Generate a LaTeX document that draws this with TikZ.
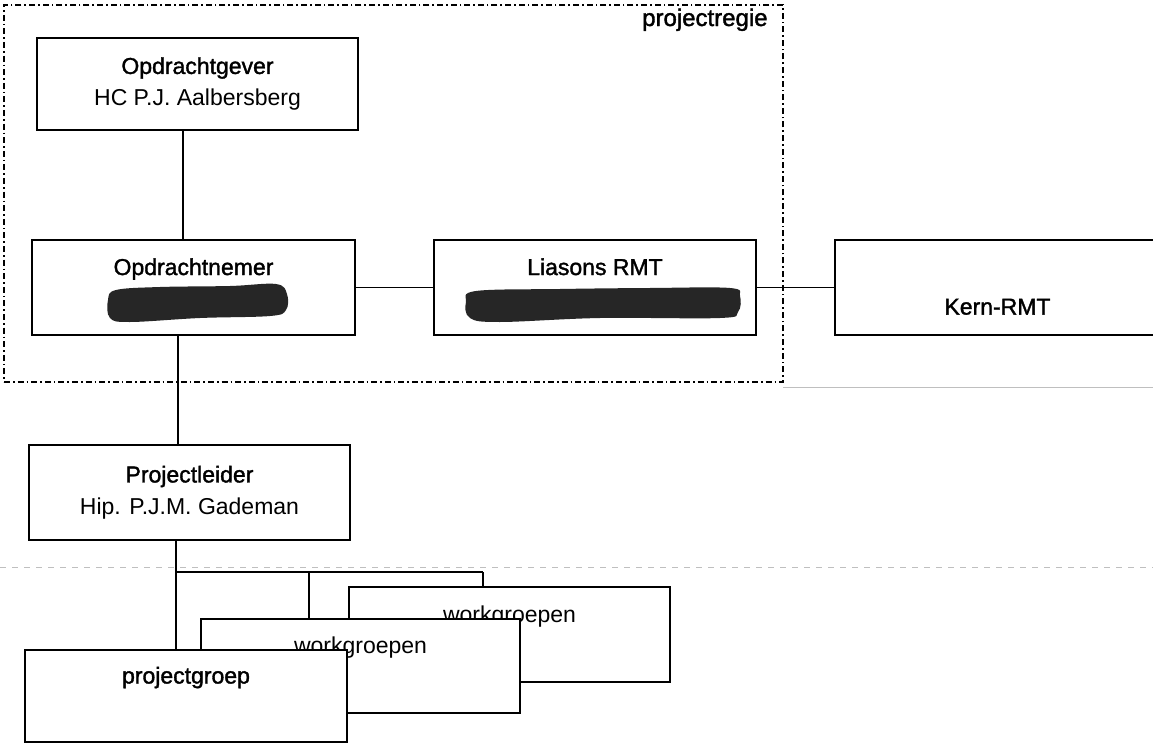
\documentclass[tikz,border=0pt]{standalone}
\usepackage{fontspec}
\setmainfont{Liberation Sans}
\newfontfamily\headfont[FakeBold=1.5]{Liberation Sans}
\begin{document}
\begin{tikzpicture}[x=0.5pt,y=-0.5pt,
  box/.style={draw=black, line width=1.1pt, fill=white, inner sep=0pt, align=center,
    font=\fontsize{11.5}{16}\selectfont},
  conn/.style={draw=black, line width=0.8pt},
  region/.style={draw=black, line width=0.8pt, dash pattern=on 3pt off 1.5pt on 0.8pt off 1.5pt, inner sep=0pt},
  blob/.style={fill=black!85},
  scanline/.style={draw=black!25, line width=0.5pt},
  lbl/.style={font=\fontsize{12}{14}\selectfont\headfont, inner sep=0pt}]
\useasboundingbox (0,0) rectangle (1153,744);
\clip (0,0) rectangle (1153,744);
\fill[white] (0,0) rectangle (1153,744);

% faint scan lines
\draw[scanline] (783,387) -- (1153,387);
\draw[scanline, dashed] (0,567) -- (1153,567);

% region
\node (regie) [region, minimum width=389.5pt, minimum height=188.5pt] at (393.5,193.5) {};
\node (regielbl) [lbl, anchor=base east] at (768,26) {projectregie};

% helper coordinates for connector positions
\coordinate (c1) at (183,0);
\coordinate (c2) at (178,0);
\coordinate (c3) at (176,0);
\coordinate (c4) at (309,0);
\coordinate (c5) at (483,0);
\coordinate (br) at (176,572);

% boxes (top part)
\node (og) [box, minimum width=160.5pt, minimum height=46pt] at (197.5,84)
  {{\headfont Opdrachtgever}\\HC P.J. Aalbersberg};
\node (on) [box, minimum width=161.5pt, minimum height=47.5pt] at (193.5,287.5)
  {{\headfont Opdrachtnemer}\\\strut};
\node (li) [box, minimum width=161pt, minimum height=47.5pt] at (595,287.5)
  {{\headfont Liasons RMT}\\\strut};
\node (kern) [box, minimum width=162.5pt, minimum height=47.5pt] at (997.5,287.5)
  {\strut\\{\headfont Kern-RMT}};
\node (pl) [box, minimum width=160.5pt, minimum height=47.5pt] at (189.5,492.5)
  {{\headfont Projectleider}\\Hip. P.J.M. Gademan};

% connectors
\draw[conn] (og.south -| c1) -- (on.north -| c1);
\draw[conn] (on.south -| c2) -- (pl.north -| c2);
\draw[conn] (on.east) -- (li.west);
\draw[conn] (li.east) -- (kern.west);
\draw[conn] (pl.south -| c3) -- (br);
\draw[conn] (br) -- (br -| c5);

% redactions
\fill[blob] plot[smooth cycle, tension=0.6] coordinates {(108,300) (116,290) (160,287) (230,286) (276,284) (287,294) (286,310) (270,316) (200,318) (130,322) (110,318)};
\fill[blob] plot[smooth cycle, tension=0.6] coordinates {(466,302) (476,291) (560,289) (650,288) (730,288) (740,296) (738,312) (720,318) (600,318) (500,322) (470,318)};

% lower boxes (back to front)
\node (wg2) [box, minimum width=160.5pt, minimum height=47.5pt] at (509.5,634.5)
  {workgroepen\\\strut};
\draw[conn] (br -| c5) -- (wg2.north -| c5);
\draw[conn] (br -| c4) -- (c4 |- 619,619);
\node (wg1) [box, minimum width=159.5pt, minimum height=47pt] at (360.5,666)
  {workgroepen\\\strut};
\draw[conn] (br) -- (c3 |- 650,650);
\node (pg) [box, minimum width=161pt, minimum height=46pt] at (186,696)
  {{\headfont projectgroep}\\\strut};
\end{tikzpicture}
\end{document}
